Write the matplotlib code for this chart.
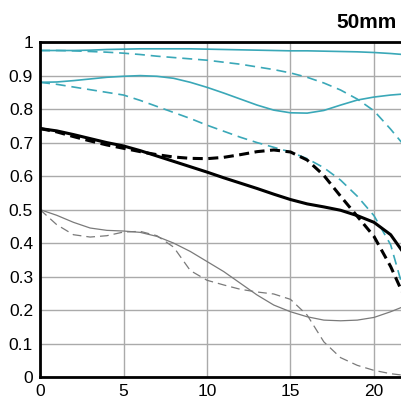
import matplotlib
matplotlib.use("Agg")
import matplotlib.pyplot as plt

plt.rcParams['font.family'] = ['Liberation Sans', 'DejaVu Sans']

# image height positions (mm from centre)
x = list(range(23))

# 10 lines/mm
s10 = [0.975, 0.975, 0.975, 0.976, 0.978, 0.979, 0.980, 0.980, 0.980, 0.980, 0.979, 0.978,
       0.977, 0.976, 0.975, 0.974, 0.974, 0.973, 0.972, 0.971, 0.969, 0.966, 0.962]
m10 = [0.975, 0.975, 0.974, 0.972, 0.970, 0.967, 0.963, 0.958, 0.954, 0.950, 0.946, 0.940,
       0.934, 0.926, 0.918, 0.908, 0.895, 0.878, 0.857, 0.830, 0.795, 0.740, 0.680]
s10_open = [0.880, 0.881, 0.885, 0.890, 0.895, 0.898, 0.900, 0.898, 0.892, 0.880, 0.865, 0.848,
            0.830, 0.812, 0.797, 0.789, 0.788, 0.796, 0.812, 0.827, 0.836, 0.842, 0.846]
m10_open = [0.880, 0.874, 0.866, 0.858, 0.850, 0.842, 0.826, 0.808, 0.790, 0.772, 0.752, 0.734,
            0.716, 0.700, 0.686, 0.672, 0.652, 0.625, 0.588, 0.540, 0.482, 0.395, 0.220]

# 30 lines/mm
s30 = [0.742, 0.735, 0.724, 0.712, 0.700, 0.690, 0.676, 0.660, 0.644, 0.628, 0.612, 0.595,
       0.579, 0.563, 0.546, 0.530, 0.517, 0.508, 0.498, 0.482, 0.462, 0.425, 0.355]
m30 = [0.742, 0.732, 0.718, 0.705, 0.693, 0.683, 0.673, 0.664, 0.657, 0.653, 0.652, 0.656,
       0.664, 0.673, 0.678, 0.672, 0.648, 0.602, 0.540, 0.480, 0.420, 0.330, 0.220]
s30_open = [0.500, 0.483, 0.462, 0.445, 0.438, 0.436, 0.432, 0.420, 0.400, 0.375, 0.345, 0.315,
            0.280, 0.245, 0.215, 0.195, 0.180, 0.170, 0.168, 0.170, 0.178, 0.195, 0.215]
m30_open = [0.500, 0.455, 0.425, 0.418, 0.422, 0.433, 0.435, 0.422, 0.388, 0.318, 0.289, 0.275,
            0.262, 0.254, 0.248, 0.232, 0.185, 0.105, 0.058, 0.035, 0.020, 0.010, 0.004]

xticks = [0, 5, 10, 15, 20]
yticks = [0, 0.1, 0.2, 0.3, 0.4, 0.5, 0.6, 0.7, 0.8, 0.9, 1]
yticklabels = ['0', '0.1', '0.2', '0.3', '0.4', '0.5', '0.6', '0.7', '0.8', '0.9', '1']

cyan = '#3aa8b8'
gray = '#7a7a7a'

fig = plt.figure(figsize=(4.01, 4.05), dpi=100)
ax = fig.add_axes([0.0998, 0.069, 0.9002, 0.827])

ax.plot(x, s10, color=cyan, lw=1.2)
ax.plot(x, m10, color=cyan, lw=1.2, dashes=(6, 3.5))
ax.plot(x, s10_open, color=cyan, lw=1.2)
ax.plot(x, m10_open, color=cyan, lw=1.2, dashes=(6, 3.5))
ax.plot(x, s30_open, color=gray, lw=0.9)
ax.plot(x, m30_open, color=gray, lw=0.9, dashes=(7, 4))
ax.plot(x, s30, color='black', lw=2.2)
ax.plot(x, m30, color='black', lw=2.2, dashes=(3.3, 1.8))

ax.set_xlim(0, 21.62)
ax.set_ylim(0, 1)
ax.set_xticks(xticks)
ax.set_yticks(yticks)
ax.set_yticklabels(yticklabels)
ax.grid(True, color='#aaaaaa', lw=1.0)
ax.set_axisbelow(True)
ax.tick_params(length=0, labelsize=12.5, pad=5)
for side in ['left', 'top', 'bottom']:
    ax.spines[side].set_linewidth(2.0)
ax.spines['right'].set_visible(False)

fig.text(0.840, 0.930, '50mm', fontsize=15, fontweight='bold', ha='left', va='baseline')

fig.savefig('out.png', dpi=100)
